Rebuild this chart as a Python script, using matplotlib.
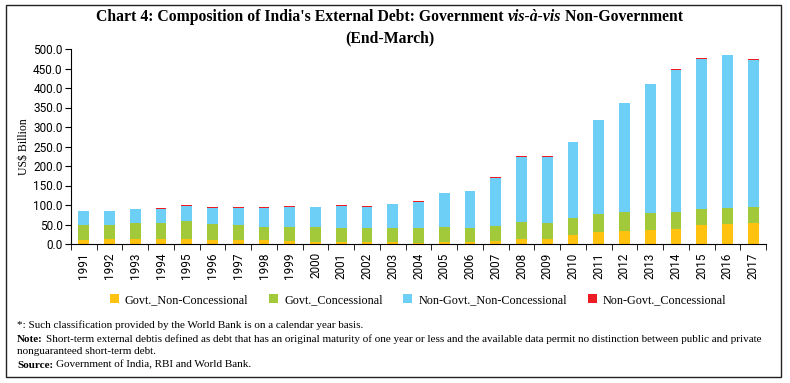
import numpy as np
import matplotlib
matplotlib.use("Agg")
import matplotlib.pyplot as plt
from matplotlib.patches import Rectangle

years = [str(y) for y in range(1991, 2018)]
govt_nonconc = [11, 12, 14, 14, 14, 11, 10, 9, 8, 6, 6, 6, 4.5, 3.5, 5, 5, 8, 12,
                12, 23, 31, 34, 36, 38.5, 49, 51, 53]
govt_conc = [38, 37, 39, 40, 44, 41, 38, 35, 36, 38, 34, 34, 36, 37.5, 39, 37, 38, 45,
             43, 44, 47, 47, 44, 44.5, 40, 42, 42]
nongovt_nonconc = [35, 35, 36, 37, 40, 41, 45, 49, 51, 51, 58, 56, 61, 67, 86, 93, 123, 166,
                   168, 194, 240, 280, 329, 364, 386, 391, 378]
nongovt_conc = [1, 1, 1, 1, 2, 1, 1, 1, 2, 1, 1.5, 1, 2, 3, 1.5, 2, 2, 2,
                2.5, 1, 1, 1.5, 1.5, 1.5, 2, 1.5, 1]

series = [govt_nonconc, govt_conc, nongovt_nonconc, nongovt_conc]
labels = ["Govt._Non-Concessional", "Govt._Concessional",
          "Non-Govt._Non-Concessional", "Non-Govt._Concessional"]
colors = ["#FFC20E", "#A2C93A", "#6DCFF6", "#ED1C24"]

W, H = 790, 383
fig = plt.figure(figsize=(W / 100, H / 100), dpi=100)
serif = "Liberation Serif"
sans = ["Roboto", "DejaVu Sans"]

# axes position in pixels
x0, x1, y0, y1 = 71, 766, 244, 49
ax = fig.add_axes([x0 / W, 1 - y0 / H, (x1 - x0) / W, (y0 - y1) / H])

x = np.arange(len(years))
bottom = np.zeros(len(years))
for vals, lab, col in zip(series, labels, colors):
    ax.bar(x, vals, width=0.42, bottom=bottom, color=col, label=lab)
    bottom += np.array(vals)

ax.set_xlim(-0.5, len(years) - 0.5)
ax.set_ylim(0, 500)
ax.set_yticks(np.arange(0, 501, 50))
ax.set_yticklabels([f"{v:.1f}" for v in np.arange(0, 501, 50)], fontsize=8.5, fontfamily=sans)
ax.set_xticks(x)
ax.set_xticklabels(years, rotation=90, fontsize=8.5, fontfamily=sans)
ax.set_xticks(np.arange(-0.5, len(years), 1), minor=True)
ax.tick_params(axis="x", which="major", length=0, pad=6)
ax.tick_params(axis="x", which="minor", length=4, direction="out")
ax.tick_params(axis="y", length=4, pad=2)
for s in ["top", "right"]:
    ax.spines[s].set_visible(False)
ax.set_ylabel("US$ Billion", fontfamily=serif, fontsize=8.5)
ax.yaxis.set_label_coords((30 - x0) / (x1 - x0), 0.5)

# title with italic middle part
fig.canvas.draw()
renderer = fig.canvas.get_renderer()
parts = [("Chart 4: Composition of India's External Debt: Government ", "normal"),
         ("vis-à-vis", "italic"),
         (" Non-Government", "normal")]
tsize = 11.3
tmp = [fig.text(0, 0, p, fontfamily=serif, fontweight="bold", style=st, fontsize=tsize)
       for p, st in parts]
widths = [t.get_window_extent(renderer).width for t in tmp]
for t in tmp:
    t.remove()
xs = 390 - sum(widths) / 2
for (p, st), w in zip(parts, widths):
    fig.text(xs / W, 1 - 17 / H, p, fontfamily=serif, fontweight="bold", style=st,
             fontsize=tsize, va="center", ha="left")
    xs += w
fig.text(390 / W, 1 - 38 / H, "(End-March)", fontfamily=serif, fontweight="bold",
         fontsize=tsize, ha="center", va="center")

# legend
leg = fig.legend(loc="center", bbox_to_anchor=(418 / W, 1 - 300 / H), ncol=4, frameon=False,
                 prop={"family": serif, "size": 8.7}, handlelength=0.75, handleheight=0.75,
                 columnspacing=1.7, handletextpad=0.5)

# footnotes
fs = 8
fig.text(17 / W, 1 - 325 / H, "*: Such classification provided by the World Bank is on a calendar year basis.",
         fontfamily=serif, fontsize=fs, va="center")
t = fig.text(17 / W, 1 - 339 / H, "Note:", fontfamily=serif, fontsize=fs, fontweight="bold", va="center")
wn = t.get_window_extent(renderer).width
fig.text((17 + wn + 3) / W, 1 - 339 / H,
         "Short-term external debtis defined as debt that has an original maturity of one year or less and the available data permit no distinction between public and private",
         fontfamily=serif, fontsize=fs, va="center")
fig.text(17 / W, 1 - 352 / H, "nonguaranteed short-term debt.", fontfamily=serif, fontsize=fs, va="center")
t = fig.text(17 / W, 1 - 365 / H, "Source:", fontfamily=serif, fontsize=fs, fontweight="bold", va="center")
ws = t.get_window_extent(renderer).width
fig.text((17 + ws + 3) / W, 1 - 365 / H, "Government of India, RBI and World Bank.",
         fontfamily=serif, fontsize=fs, va="center")

# outer border
fig.patches.append(Rectangle((6 / W, 1 - 377 / H), 775 / W, 372 / H, transform=fig.transFigure,
                             fill=False, edgecolor="#222222", linewidth=1.0))

fig.savefig("out.png", dpi=100)
